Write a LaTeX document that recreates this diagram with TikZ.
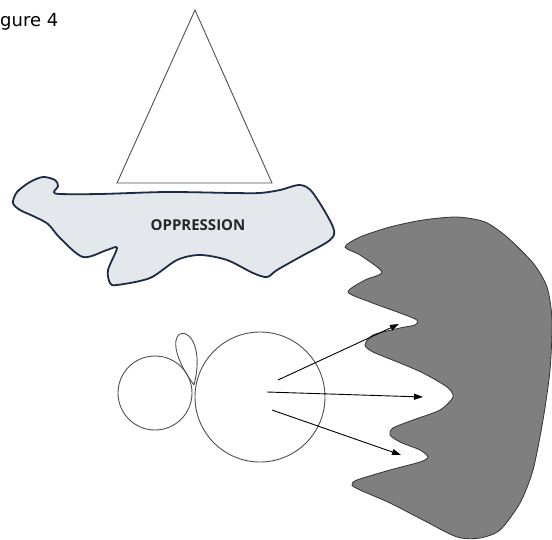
\documentclass[tikz,border=0pt]{standalone}
\usepackage{fontspec}
\setmainfont{DejaVu Sans}
\newfontfamily\labelfont{Open Sans}
\usetikzlibrary{arrows.meta}
\definecolor{blobfill}{HTML}{E4E7EC}
\definecolor{blobline}{HTML}{1F2A44}
\definecolor{darkfill}{HTML}{7F7F7F}
\definecolor{thinline}{HTML}{505050}
\tikzset{
  thin outline/.style={draw=thinline, line width=0.9pt},
  push arrow/.style={draw=black, line width=0.9pt, -{Triangle[length=9pt,width=6pt]}},
}
\begin{document}
\begin{tikzpicture}[x=1pt,y=-1pt]
\useasboundingbox (0,0) rectangle (552,539);
% caption
\node[anchor=west, inner sep=0pt, font=\fontsize{18}{21}\selectfont] (cap) at (0,22) {gure 4};
% triangle
\draw[thin outline, line join=miter] (195,10) -- (272,183) -- (117,183) -- cycle;
% oppression blob
\draw[draw=blobline, fill=blobfill, line width=1.8pt, line join=round]
  plot[smooth cycle, tension=0.5] coordinates {
   (60,194) (54,192) (58,186) (55,180) (43,177) (30,182) (17,192) (13,203)
   (20,210) (33,216) (48,224) (60,238) (83,257) (107,250) (117,248) (108,270)
   (110,283) (117,285) (150,278) (177,260) (200,255) (227,260) (253,273)
   (267,277) (277,270) (300,257) (330,240) (333,227) (313,193) (300,185)
   (280,190) (260,193) (233,193) (167,192) (100,194)};
\node[font=\labelfont\bfseries\fontsize{15}{17}\selectfont, text=black!85] (opp) at (198,225) {OPPRESSION};
% dark shape
\draw[draw=black!80, fill=darkfill, line width=0.8pt]
  plot[smooth cycle, tension=0.45] coordinates {
   (345,247) (360,237) (390,227) (423,220) (457,217) (485,222) (507,237)
   (533,263) (547,287) (552,320) (550,370) (543,420) (533,470) (520,503)
   (500,530) (480,538) (457,537) (423,520) (390,503) (360,490) (352,485)
   (357,480) (390,470) (420,462) (428,457) (420,450) (400,442) (390,435)
   (393,428) (413,420) (440,410) (453,397) (447,387) (423,373) (400,363)
   (373,352) (365,345) (373,335) (400,328) (415,325) (417,320) (400,313)
   (370,302) (348,292) (365,280) (382,272) (360,255)};
% circles
\node[thin outline, circle, minimum size=74pt, inner sep=0pt] (small) at (155,393) {};
\node[thin outline, circle, minimum size=130pt, inner sep=0pt] (big) at (260,397) {};
\coordinate (j) at (194,385);
\draw[thin outline] (j) .. controls (145,318) and (212,314) .. (j);
% arrows
\coordinate (a1s) at (278,380); \coordinate (a1e) at (399,324);
\coordinate (a2s) at (267,392); \coordinate (a2e) at (423,397);
\coordinate (a3s) at (272,410); \coordinate (a3e) at (401,455);
\draw[push arrow] (a1s) -- (a1e);
\draw[push arrow] (a2s) -- (a2e);
\draw[push arrow] (a3s) -- (a3e);
\end{tikzpicture}
\end{document}
